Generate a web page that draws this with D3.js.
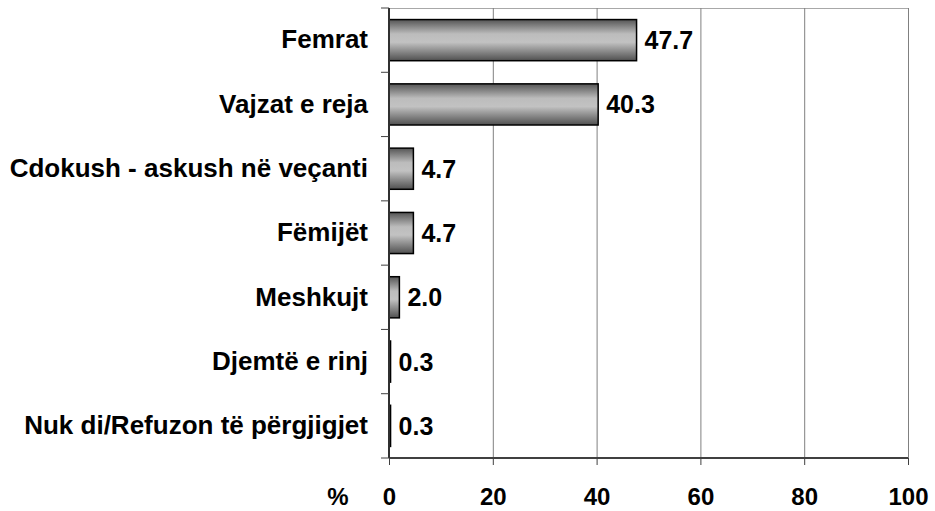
<!DOCTYPE html>
<html><head><meta charset="utf-8">
<script src="https://cdn.jsdelivr.net/npm/d3@7"></script>
<style>body{margin:0;background:#fff}svg{display:block}text{font-family:"Liberation Sans",Arial,sans-serif;font-weight:bold;fill:#000}</style>
</head><body><svg id="c" width="935" height="511"></svg>
<script>
const categories = ["Femrat","Vajzat e reja","Cdokush - askush në veçanti","Fëmijët","Meshkujt","Djemtë e rinj","Nuk di/Refuzon të përgjigjet"];
const values = [47.7,40.3,4.7,4.7,2.0,0.3,0.3];
const xTicks = [0,20,40,60,80,100];
const axisUnit = "%";

const svg = d3.select("#c");
const m = {l:389,r:908,t:8,b:458};
const x = d3.scaleLinear().domain([0,100]).range([m.l,m.r]);
const y = d3.scaleBand().domain(categories).range([m.t,m.b]).paddingInner(0.36).paddingOuter(0.18);

const defs = svg.append("defs");
const g = defs.append("linearGradient").attr("id","bg").attr("x1",0).attr("y1",0).attr("x2",0).attr("y2",1);
[["0%","#555"],["35%","#bcbcbc"],["55%","#c2c2c2"],["100%","#505050"]].forEach(s=>
  g.append("stop").attr("offset",s[0]).attr("stop-color",s[1]));

// top border
svg.append("line").attr("x1",m.l).attr("x2",m.r).attr("y1",m.t+0.5).attr("y2",m.t+0.5).attr("stroke","#a8a8a8").attr("stroke-width",1);
// gridlines
svg.selectAll(".grid").data(xTicks.slice(1)).join("line")
  .attr("x1",d=>x(d)+0.5).attr("x2",d=>x(d)+0.5).attr("y1",m.t).attr("y2",m.b)
  .attr("stroke","#808080").attr("stroke-width",1);

// bars
svg.selectAll(".bar").data(values).join("rect")
  .attr("x",m.l).attr("y",(d,i)=>y(categories[i]))
  .attr("width",d=>x(d)-m.l).attr("height",y.bandwidth())
  .attr("fill","url(#bg)").attr("stroke","#000").attr("stroke-width",1.5);

// value labels
svg.selectAll(".val").data(values).join("text")
  .attr("x",d=>x(d)+8).attr("y",(d,i)=>y(categories[i])+y.bandwidth()/2)
  .attr("dy","0.36em").style("font-size","25px").text(d=>d.toFixed(1));

// x axis
const xa = svg.append("g").attr("transform",`translate(0,${m.b})`)
  .call(d3.axisBottom(x).tickValues(xTicks).tickSize(7).tickPadding(23).tickFormat(d3.format("d")));
xa.select(".domain").attr("stroke","#404040").attr("stroke-width",2).attr("d",`M${m.l},0H${m.r}`);
xa.selectAll(".tick line").attr("stroke","#404040");
xa.selectAll("text").style("font-size","24px").style("font-family","Liberation Sans, Arial, sans-serif").style("font-weight","bold").attr("fill","#000");
svg.append("text").attr("x",338).attr("y",505).style("font-size","24px").attr("text-anchor","middle").text(axisUnit);

// y axis
const ya = svg.append("g").attr("transform",`translate(${m.l},0)`)
  .call(d3.axisLeft(y).tickSize(0).tickPadding(21));
ya.select(".domain").attr("stroke","#303030").attr("stroke-width",2).attr("d",`M0,${m.t}V${m.b}`);
ya.selectAll("text").style("font-size","26px").style("font-family","Liberation Sans, Arial, sans-serif").style("font-weight","bold").attr("fill","#000");
// boundary ticks
const bounds = d3.range(categories.length+1).map(i=>m.t+i*(m.b-m.t)/categories.length);
svg.selectAll(".yt").data(bounds).join("line")
  .attr("x1",m.l-8).attr("x2",m.l).attr("y1",d=>d).attr("y2",d=>d).attr("stroke","#404040").attr("stroke-width",1);
</script></body></html>
